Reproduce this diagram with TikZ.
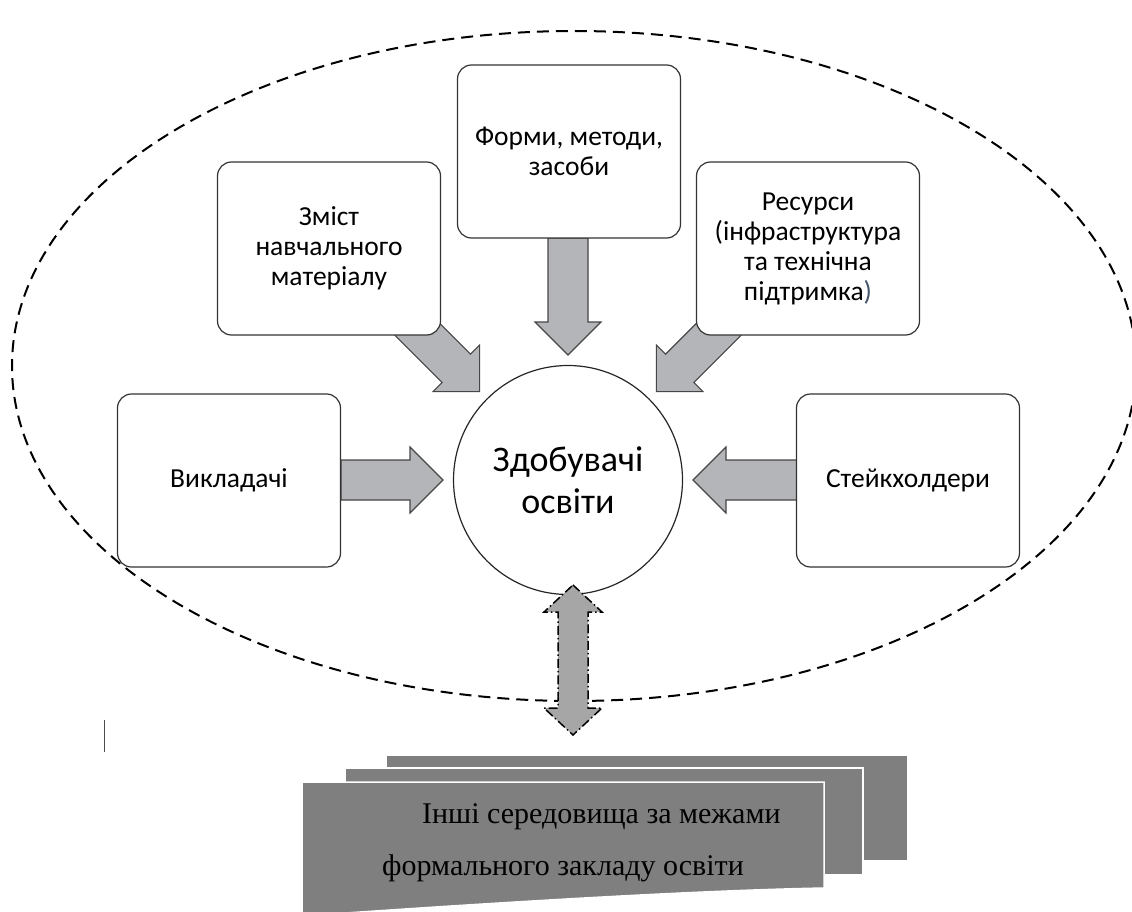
\documentclass[tikz,border=0pt]{standalone}
\usepackage{fontspec}
\setmainfont{Carlito}
\newfontfamily\timesfont{Liberation Serif}

\definecolor{arrowfill}{RGB}{180,181,184}
\definecolor{arrowline}{RGB}{70,70,70}
\definecolor{pagefill}{RGB}{127,127,127}
\definecolor{linkfill}{RGB}{166,166,166}
\definecolor{bracket}{RGB}{68,84,106}

\begin{document}
\begin{tikzpicture}[x=1pt, y=-1pt,
	box/.style={draw=black!80, line width=1.2pt, fill=white, rounded corners=14pt, minimum width=223pt, minimum height=173pt, align=center, font=\fontsize{27.5}{30}\selectfont},
	hubnode/.style={circle, draw=black!85, line width=1.2pt, fill=white, minimum size=229pt, inner sep=0pt, align=center, font=\fontsize{36}{42}\selectfont},
	blockarrow/.style={draw=arrowline, line width=1.1pt, fill=arrowfill},
	area/.style={line width=2pt, dash pattern=on 12pt off 7pt},
	link/.style={line width=1.5pt, fill=linkfill, dash pattern=on 9pt off 3pt on 1.5pt off 3pt},
	page/.style={fill=pagefill, draw=white, line width=1.5pt},
	pagetext/.style={anchor=base west, inner sep=0pt, font=\timesfont\fontsize{30}{30}\selectfont}]
	\path[use as bounding box, clip] (0,0) rectangle (1132,912);

	\draw[area] (574,366) ellipse [x radius=562pt, y radius=335pt];

	\coordinate (core) at (568,480);
	\foreach \ang/\len in {180/227, 135/250, 90/242, 45/250, 0/229}
		\draw[blockarrow, shift={(core)}, rotate=\ang]
			(\len,-20) -- (158,-20) -- (158,-33) -- (125,0) -- (158,33) -- (158,20) -- (\len,20) -- cycle;

	\node[box] (forms) at (569,151.5) {Форми, методи,\\засоби};
	\node[box] (content) at (329,248.5) {Зміст\\навчального\\матеріалу};
	\node[box] (resources) at (808,248.5) {Ресурси\\(інфраструктура\\та технічна\\підтримка\textcolor{bracket}{)}};
	\node[box] (teachers) at (229,480.5) {Викладачі};
	\node[box] (stakeholders) at (908,480.5) {Стейкхолдери};
	\node[hubnode] (hub) at (core) {Здобувачі\\освіти};

	\coordinate (linkmid) at (573,660);
	\draw[link, shift={(linkmid)}]
		(0,-75) -- (29,-48) -- (15,-48) -- (15,48) -- (29,48) -- (0,75)
		-- (-29,48) -- (-15,48) -- (-15,-48) -- (-29,-48) -- cycle;

	\draw[line width=1pt, black!70] (104,720) -- (104,752);

	\path[page] (386,755) rectangle (908,861);
	\path[page] (345,768) rectangle (863,875);
	\path[page] (302,782) -- (824,782) -- (824,888) .. controls (720,890) and (560,898) .. (302,916) -- cycle;
	\node[pagetext] (other1) at (422,823) {Інші середовища за межами};
	\node[pagetext] (other2) at (382,875) {формального закладу освіти};
\end{tikzpicture}
\end{document}
